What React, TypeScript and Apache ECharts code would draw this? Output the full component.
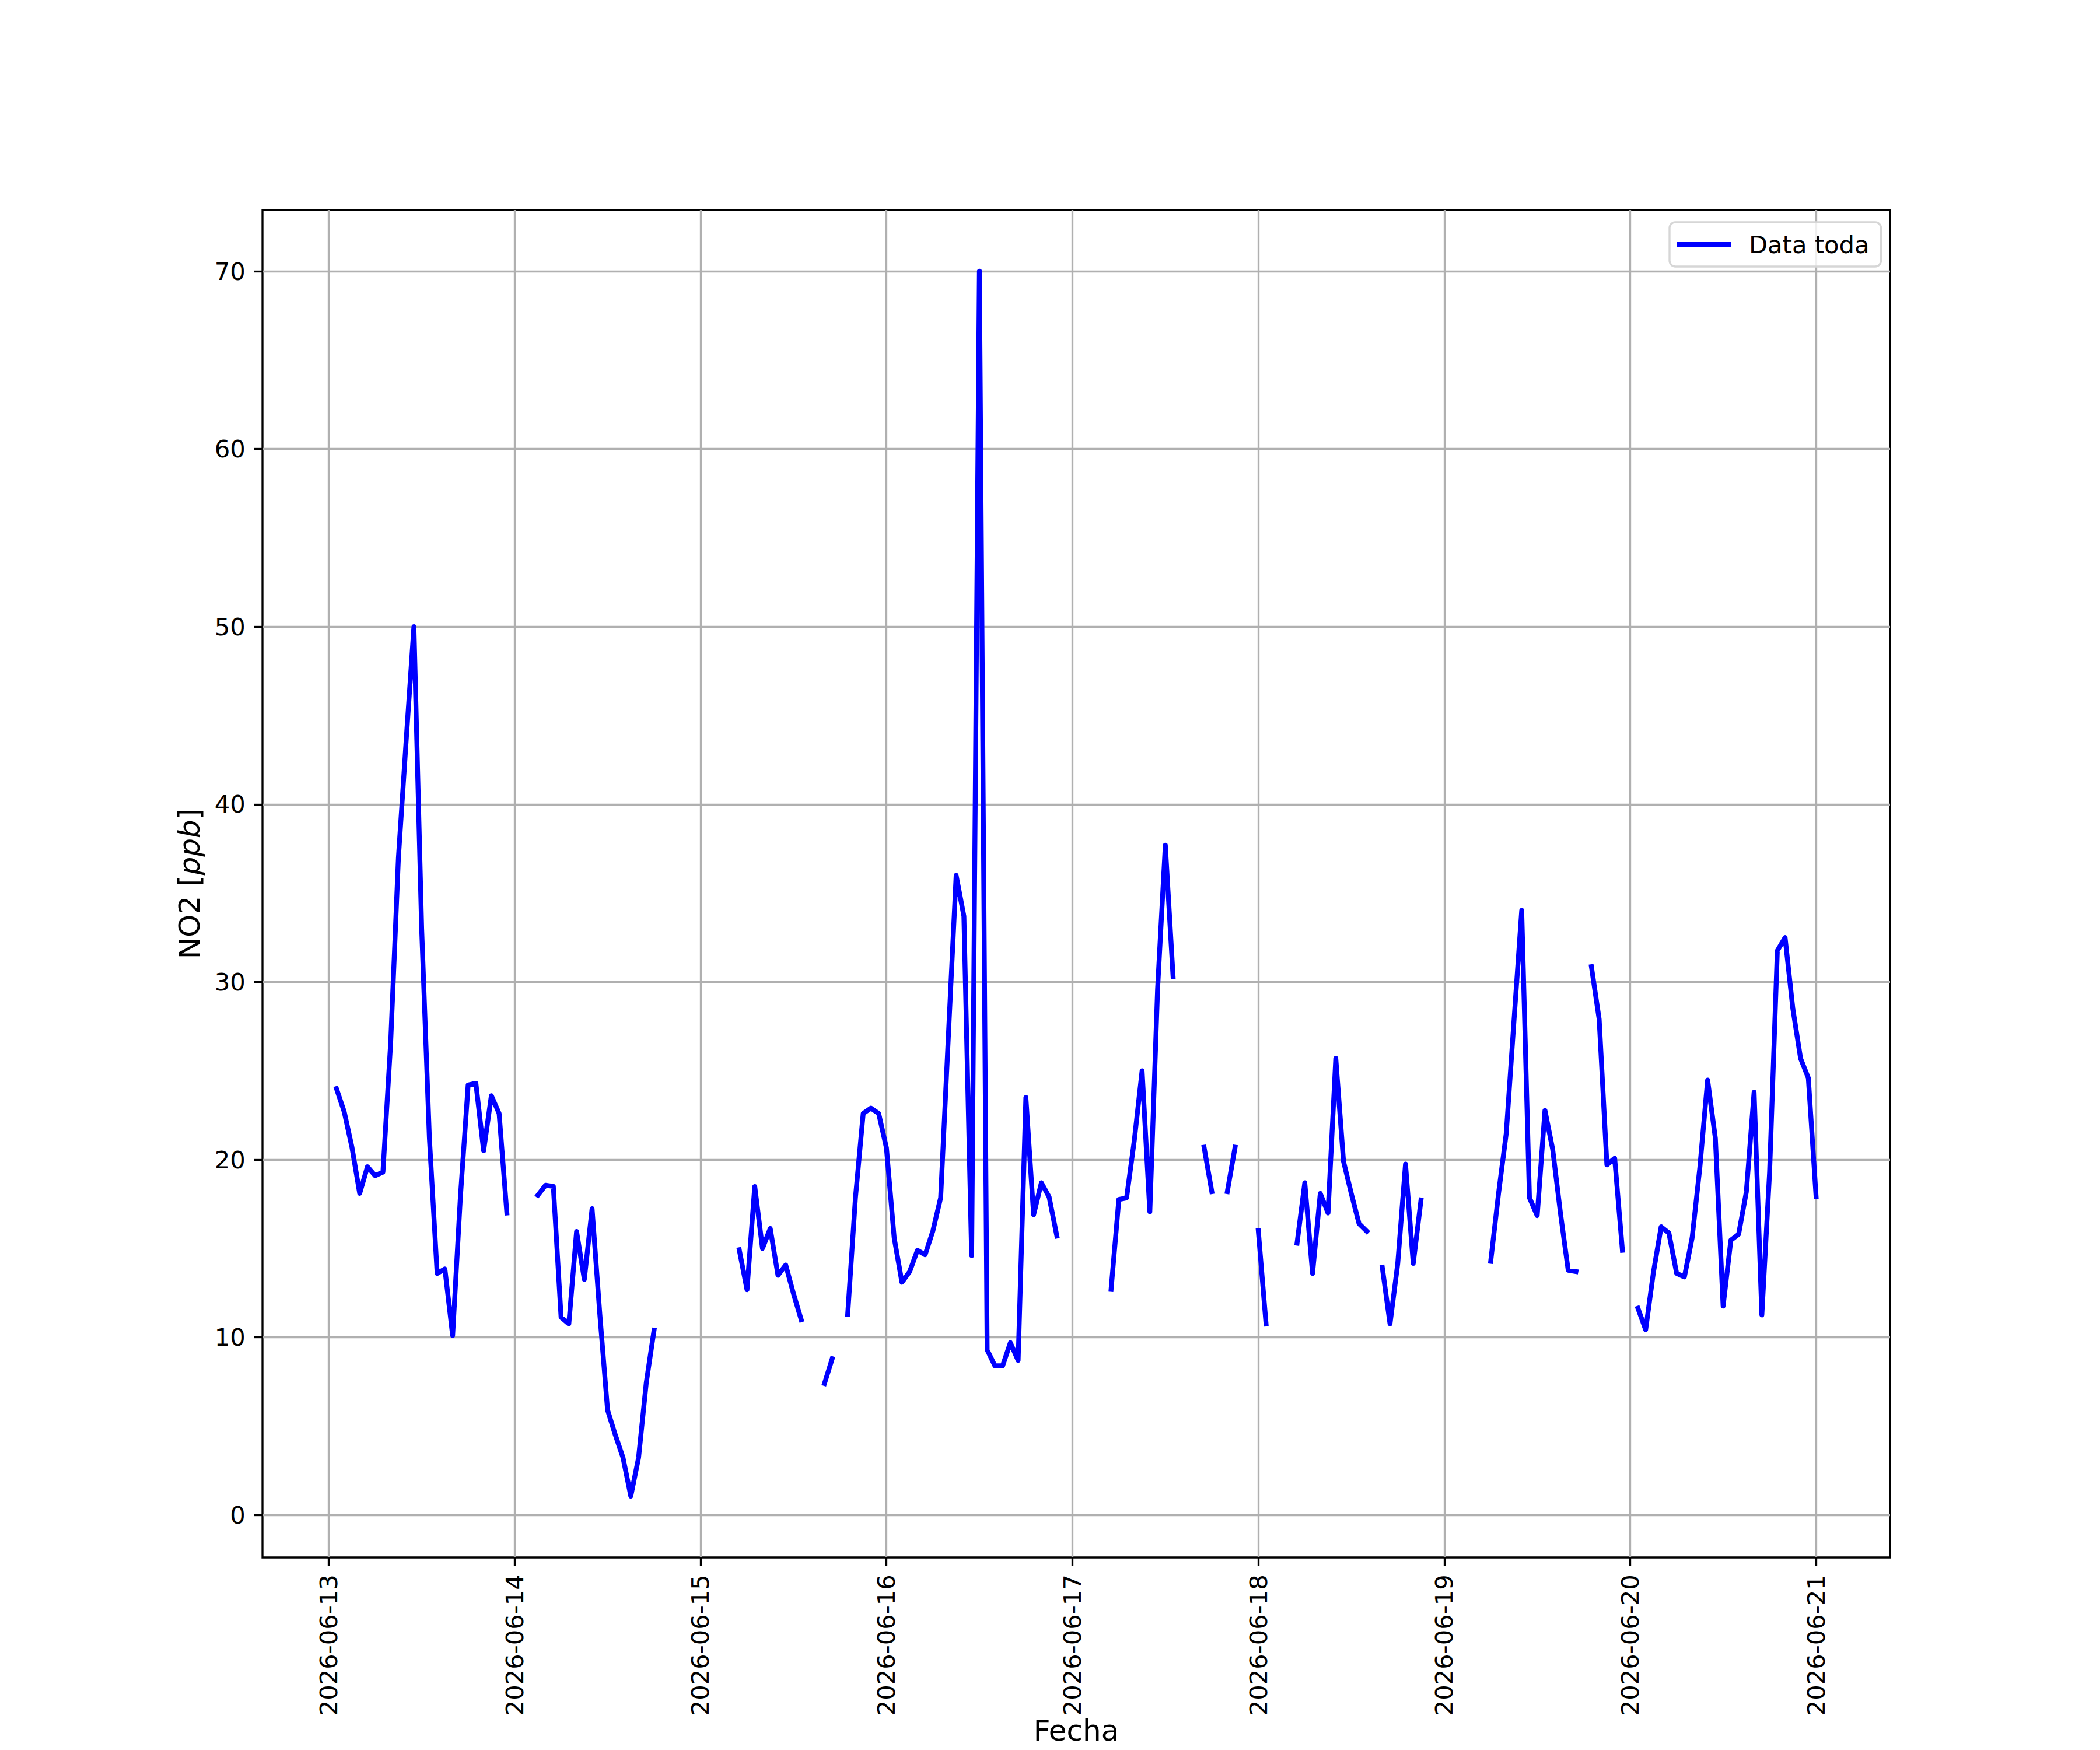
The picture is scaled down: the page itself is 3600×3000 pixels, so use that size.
import React, { useEffect, useRef } from "react";
import * as echarts from "echarts";

// Hourly NO2 values (ppb), one array per day, index = hour (0..23); null = no data
const N = null;
const day0613 = [N, 24.0, 22.7, 20.7, 18.1, 19.6, 19.1, 19.3, 26.6, 37.0, 43.6, 50.0, 33.0, 21.2, 13.6, 13.85, 10.1, 17.9, 24.2, 24.3, 20.5, 23.6, 22.6, 17.0];
const day0614 = [N, N, N, 18.0, 18.56, 18.5, 11.13, 10.76, 15.96, 13.26, 17.24, 11.3, 5.91, 4.51, 3.22, 1.06, 3.22, 7.46, 10.4, N, N, N, N, N];
const day0615 = [N, N, N, N, N, 14.93, 12.68, 18.49, 15.0, 16.13, 13.49, 14.07, 12.46, 10.99, N, N, 7.4, 8.8, N, 11.3, 17.86, 22.6, 22.9, 22.6];
const day0616 = [20.66, 15.6, 13.1, 13.7, 14.9, 14.65, 16.0, 17.86, 27.0, 36.0, 33.7, 14.6, 70.0, 9.3, 8.4, 8.4, 9.7, 8.7, 23.5, 16.9, 18.7, 17.9, 15.7, N];
const day0617 = [N, N, N, N, N, 12.7, 17.76, 17.85, 21.1, 25.0, 17.07, 29.6, 37.7, 30.3, N, N, N, 20.7, 18.2, N, 18.2, 20.7, N, N];
const day0618 = [16.0, 10.75, N, N, N, 15.3, 18.7, 13.6, 18.1, 17.0, 25.7, 19.9, 18.1, 16.4, 15.97, N, 13.95, 10.76, 14.16, 19.75, 14.16, 17.73, N, N];
const day0619 = [N, N, N, N, N, N, 14.28, 18.06, 21.46, 27.8, 34.03, 17.86, 16.85, 22.77, 20.58, 17.0, 13.78, 13.7, N, 30.86, 27.9, 19.7, 20.08, 14.9];
const day0620 = [N, 11.64, 10.43, 13.65, 16.22, 15.87, 13.6, 13.4, 15.6, 19.57, 24.48, 21.2, 11.76, 15.47, 15.8, 18.2, 23.8, 11.26, 19.3, 31.76, 32.5, 28.5, 25.7, 24.6];
const day0621 = [17.93];

const dayArrays = [day0613, day0614, day0615, day0616, day0617, day0618, day0619, day0620, day0621];
const startYear = 2026;
const startMonthIndex = 5; // June
const startDay = 13;
const yTicks = [0, 10, 20, 30, 40, 50, 60, 70];
const seriesName = "Data toda";
const xName = "Fecha";

const FONT = "DejaVu Sans";
const PT = 300 / 72; // px per point at 300 dpi

function pad2(n: number) {
  return n < 10 ? "0" + n : "" + n;
}

export default function App() {
  const ref = useRef<HTMLDivElement>(null);

  useEffect(() => {
    document.body.style.margin = "0";
    if (!ref.current) return;
    const chart = echarts.init(ref.current, null, { renderer: "svg" });

    const HOUR = 3600000;
    const t0 = Date.UTC(startYear, startMonthIndex, startDay);
    const data: any[] = [];
    let xFirst = Infinity, xLast = -Infinity, yMin = Infinity, yMax = -Infinity;
    dayArrays.forEach((vals, d) => {
      vals.forEach((v, h) => {
        const t = t0 + (d * 24 + h) * HOUR;
        if (v == null) {
          data.push([t, "-"]);
        } else {
          data.push([t, v]);
          xFirst = Math.min(xFirst, t);
          xLast = Math.max(xLast, t);
          yMin = Math.min(yMin, v);
          yMax = Math.max(yMax, v);
        }
      });
    });
    const xPad = (xLast - xFirst) * 0.05;
    const yPad = (yMax - yMin) * 0.05;
    const dayTicks: number[] = [];
    for (let d = 0; d < dayArrays.length; d++) dayTicks.push(t0 + d * 24 * HOUR);

    const lw = 0.8 * PT;
    const tickLen = 3.5 * PT;
    const tickFont = 10 * PT;
    const labelFont = 12 * PT;

    chart.setOption({
      animation: false,
      backgroundColor: "#ffffff",
      grid: {
        left: 450,
        right: 360,
        top: 360,
        bottom: 330,
        containLabel: false,
        outerBoundsMode: "none",
        show: true,
        borderColor: "#000000",
        borderWidth: lw,
        backgroundColor: "transparent",
      },
      legend: {
        show: true,
        left: 2862,
        top: 381,
        orient: "horizontal",
        icon: "rect",
        itemWidth: 92,
        itemHeight: 8,
        padding: [17, 20, 17, 13],
        backgroundColor: "rgba(255,255,255,0.8)",
        borderColor: "#d6d6d6",
        borderWidth: lw,
        borderRadius: 10,
        textStyle: {
          fontFamily: FONT,
          fontSize: tickFont,
          color: "#000000",
          padding: [0, 0, 0, 26],
        },
        data: [seriesName],
      },
      xAxis: {
        type: "value",
        min: xFirst - xPad,
        max: xLast + xPad,
        name: xName,
        nameLocation: "middle",
        nameGap: 272,
        nameMoveOverlap: false,
        nameTextStyle: { fontFamily: FONT, fontSize: labelFont, color: "#000000" },
        axisLine: { show: false, onZero: false },
        axisTick: {
          show: true,
          customValues: dayTicks,
          length: tickLen,
          lineStyle: { color: "#000000", width: lw },
        },
        axisLabel: {
          show: true,
          customValues: dayTicks,
          rotate: 90,
          margin: tickLen * 2,
          fontFamily: FONT,
          fontSize: tickFont,
          color: "#000000",
          formatter: (v: number) => {
            const dt = new Date(v);
            return dt.getUTCFullYear() + "-" + pad2(dt.getUTCMonth() + 1) + "-" + pad2(dt.getUTCDate());
          },
        },
        splitLine: { show: true, lineStyle: { color: "#b0b0b0", width: lw } },
      },
      yAxis: {
        type: "value",
        min: yMin - yPad,
        max: yMax + yPad,
        name: "NO2 [{i|ppb}]",
        nameLocation: "middle",
        nameGap: 100,
        nameMoveOverlap: false,
        nameTextStyle: {
          fontFamily: FONT,
          fontSize: labelFont,
          color: "#000000",
          rich: {
            i: { fontFamily: FONT, fontSize: labelFont, fontStyle: "italic", color: "#000000" },
          },
        },
        axisLine: { show: false, onZero: false },
        axisTick: {
          show: true,
          customValues: yTicks,
          length: tickLen,
          lineStyle: { color: "#000000", width: lw },
        },
        axisLabel: {
          show: true,
          customValues: yTicks,
          margin: tickLen * 2,
          fontFamily: FONT,
          fontSize: tickFont,
          color: "#000000",
        },
        splitLine: { show: true, lineStyle: { color: "#b0b0b0", width: lw } },
      },
      series: [
        {
          name: seriesName,
          type: "line",
          data: data,
          showSymbol: false,
          symbol: "none",
          connectNulls: false,
          color: "#0000ff",
          lineStyle: { color: "#0000ff", width: 2 * PT, cap: "square", join: "round" },
          itemStyle: { color: "#0000ff" },
          emphasis: { disabled: true },
          z: 3,
        },
      ],
    });

    return () => {
      chart.dispose();
    };
  }, []);

  return <div ref={ref} style={{ width: 3600, height: 3000 }} />;
}
